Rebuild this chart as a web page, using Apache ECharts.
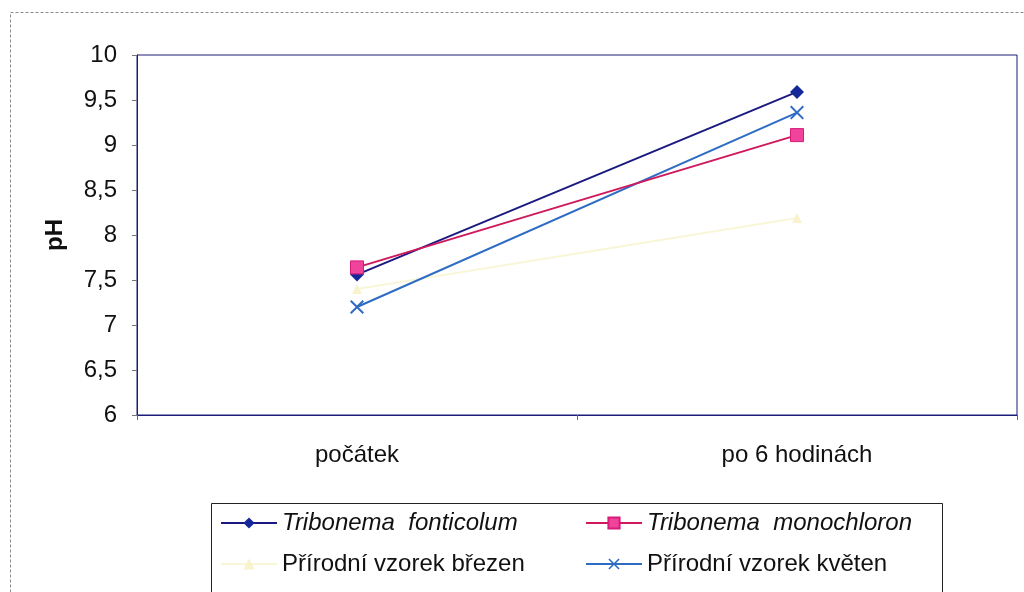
<!DOCTYPE html>
<html>
<head>
<meta charset="utf-8">
<script src="https://cdn.jsdelivr.net/npm/echarts@6/dist/echarts.min.js"></script>
<style>
  html, body { margin: 0; padding: 0; background: #fff; }
  #chart { width: 1024px; height: 592px; }
</style>
</head>
<body>
<div id="chart"></div>
<script>
// pH at the start and after 6 hours for four samples
const categories = ['počátek', 'po 6 hodinách'];
const fonticolum = [7.56, 9.59];
const monochloron = [7.64, 9.11];
const brezen = [7.40, 8.19];
const kveten = [7.20, 9.36];
const yTicks = { min: 6, max: 10, step: 0.5 };

const names = {
  fonticolum: 'Tribonema  fonticolum',
  monochloron: 'Tribonema  monochloron',
  brezen: 'Přírodní vzorek březen',
  kveten: 'Přírodní vzorek květen'
};
const italicNames = [names.fonticolum, names.monochloron];

const FONT = '"Liberation Sans", Arial, sans-serif';
const FS = 24;
const crossPath = 'path://M0,1L1,0L5,4L9,0L10,1L6,5L10,9L9,10L5,6L1,10L0,9L4,5Z';

const legendText = {
  fontFamily: FONT,
  fontSize: FS,
  color: '#111',
  rich: {
    it: { fontFamily: FONT, fontSize: FS, lineHeight: 26, fontStyle: 'italic', color: '#111' },
    up: { fontFamily: FONT, fontSize: FS, lineHeight: 26, color: '#111' }
  }
};
const legendFormatter = n => (italicNames.includes(n) ? '{it|' + n + '}' : '{up|' + n + '}');

const chart = echarts.init(document.getElementById('chart'), null, { renderer: 'canvas' });

chart.setOption({
  backgroundColor: '#ffffff',
  animation: false,
  textStyle: { fontFamily: FONT },
  graphic: [
    {
      type: 'rect', z: -1,
      shape: { x: 10.5, y: 12.5, width: 1030, height: 600 },
      style: { fill: 'none', stroke: '#8a8a8a', lineWidth: 1, lineDash: [3, 2] }
    },
    {
      type: 'rect', z: 0,
      shape: { x: 211.5, y: 503.5, width: 731, height: 90 },
      style: { fill: '#fff', stroke: '#222', lineWidth: 1 }
    }
  ],
  grid: {
    left: 137, top: 55, width: 880, height: 360,
    show: true, borderColor: '#1c1c7a', borderWidth: 1, backgroundColor: '#fff'
  },
  legend: [
    {
      orient: 'vertical', left: 215, top: 506, itemGap: 17,
      itemWidth: 56, itemHeight: 14,
      data: [names.fonticolum, names.brezen],
      textStyle: legendText, formatter: legendFormatter
    },
    {
      orient: 'vertical', left: 580, top: 506, itemGap: 17,
      itemWidth: 56, itemHeight: 14,
      data: [names.monochloron, names.kveten],
      textStyle: legendText, formatter: legendFormatter
    }
  ],
  xAxis: {
    type: 'category',
    data: categories,
    boundaryGap: true,
    axisLine: { lineStyle: { color: '#1c1c7a', width: 1 } },
    axisTick: { show: true, length: 5, lineStyle: { color: '#666' } },
    axisLabel: { fontFamily: FONT, fontSize: FS, color: '#111', margin: 28 }
  },
  yAxis: {
    type: 'value',
    min: yTicks.min, max: yTicks.max, interval: yTicks.step,
    name: 'pH',
    nameLocation: 'middle',
    nameGap: 70,
    nameRotate: 90,
    nameTextStyle: { fontFamily: FONT, fontSize: FS, fontWeight: 'bold', color: '#111' },
    splitLine: { show: false },
    axisLine: { show: true, lineStyle: { color: '#1c1c7a', width: 1 } },
    axisTick: { show: true, length: 5, lineStyle: { color: '#777' } },
    axisLabel: {
      fontFamily: FONT, fontSize: FS, color: '#111', margin: 20,
      formatter: v => String(v).replace('.', ',')
    }
  },
  series: [
    {
      name: names.fonticolum, type: 'line', data: fonticolum,
      symbol: 'diamond', symbolSize: 14, z: 4,
      lineStyle: { color: '#1a1a80', width: 2 },
      itemStyle: { color: '#14289a' }
    },
    {
      name: names.monochloron, type: 'line', data: monochloron,
      symbol: 'rect', symbolSize: 13, z: 5,
      lineStyle: { color: '#d0185c', width: 2 },
      itemStyle: { color: '#f0449c', borderColor: '#d81a78', borderWidth: 1 }
    },
    {
      name: names.brezen, type: 'line', data: brezen,
      symbol: 'triangle', symbolSize: 10, z: 2,
      lineStyle: { color: '#f9f6d8', width: 2 },
      itemStyle: { color: '#f8f3cc' }
    },
    {
      name: names.kveten, type: 'line', data: kveten,
      symbol: crossPath, symbolSize: 14, z: 3,
      lineStyle: { color: '#2e6cc4', width: 2 },
      itemStyle: { color: '#2e6cc4' }
    }
  ]
});
</script>
</body>
</html>
